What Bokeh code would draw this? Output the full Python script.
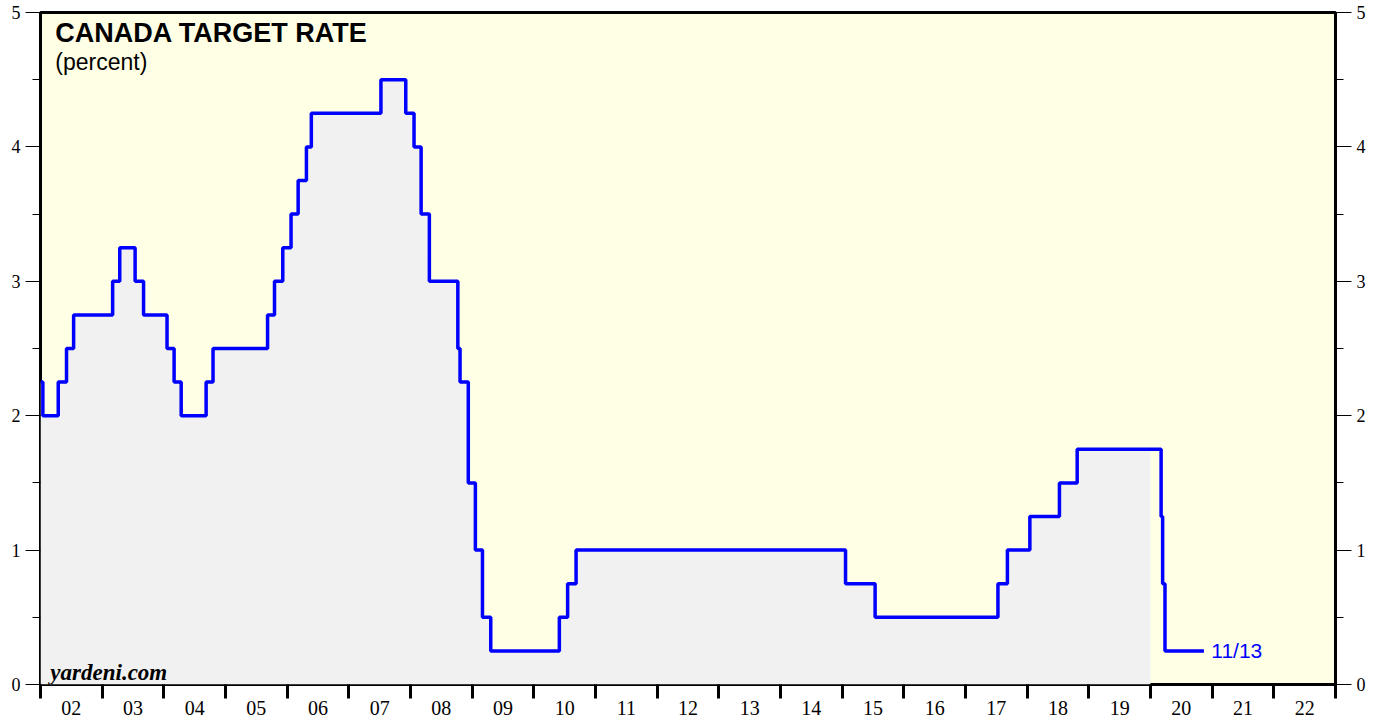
import pandas as pd
from bokeh.plotting import figure
from bokeh.models import Range1d, FixedTicker, LinearAxis, Label, ColumnDataSource
from bokeh.embed import file_html
from bokeh.resources import INLINE

# ---- data: Bank of Canada target rate (change dates and new levels) ----
dates = ["2002-01-01", "2002-01-15", "2002-04-16", "2002-06-04", "2002-07-16",
         "2003-03-04", "2003-04-15", "2003-07-15", "2003-09-03",
         "2004-01-20", "2004-03-02", "2004-04-13", "2004-09-08", "2004-10-19",
         "2005-09-07", "2005-10-18", "2005-12-06",
         "2006-01-24", "2006-03-07", "2006-04-25", "2006-05-24",
         "2007-07-10", "2007-12-04",
         "2008-01-22", "2008-03-04", "2008-04-22", "2008-10-08", "2008-10-21", "2008-12-09",
         "2009-01-20", "2009-03-03", "2009-04-21",
         "2010-06-01", "2010-07-20", "2010-09-08",
         "2015-01-21", "2015-07-15",
         "2017-07-12", "2017-09-06",
         "2018-01-17", "2018-07-11", "2018-10-24",
         "2020-03-04", "2020-03-13", "2020-03-27", "2020-11-13"]
rates = [2.25, 2.00, 2.25, 2.50, 2.75,
         3.00, 3.25, 3.00, 2.75,
         2.50, 2.25, 2.00, 2.25, 2.50,
         2.75, 3.00, 3.25,
         3.50, 3.75, 4.00, 4.25,
         4.50, 4.25,
         4.00, 3.50, 3.00, 2.50, 2.25, 1.50,
         1.00, 0.50, 0.25,
         0.50, 0.75, 1.00,
         0.75, 0.50,
         0.75, 1.00,
         1.25, 1.50, 1.75,
         1.25, 0.75, 0.25, 0.25]
fill_end_date = "2020-01-01"
year_ticks = list(range(2002, 2024))
year_labels = ["02", "03", "04", "05", "06", "07", "08", "09", "10", "11", "12",
               "13", "14", "15", "16", "17", "18", "19", "20", "21", "22"]
y_ticks = [0, 1, 2, 3, 4, 5]
y_minor = [0.5, 1.5, 2.5, 3.5, 4.5]
title_text = "CANADA TARGET RATE"
subtitle_text = "(percent)"
source_text = "yardeni.com"
last_label = "11/13"


def dec_year(s):
    t = pd.Timestamp(s)
    start = pd.Timestamp(year=t.year, month=1, day=1)
    end = pd.Timestamp(year=t.year + 1, month=1, day=1)
    return t.year + (t - start) / (end - start)


xs = [dec_year(d) for d in dates]
fe = dec_year(fill_end_date)
fx = [x for x in xs if x < fe]
fy = [r for x, r in zip(xs, rates) if x < fe]
fx.append(fe)
fy.append(fy[-1])

src = ColumnDataSource(dict(x=xs, y=rates))
fsrc = ColumnDataSource(dict(x=fx, y1=[0] * len(fx), y2=fy))

p = figure(width=1382, height=717,
           x_range=Range1d(year_ticks[0], year_ticks[-1]), y_range=Range1d(0, 5),
           x_axis_location=None, y_axis_location=None,
           output_backend="svg", toolbar_location=None,
           min_border_left=40, min_border_right=47, min_border_top=12, min_border_bottom=31,
           background_fill_color="#FFFFE5", border_fill_color="white",
           outline_line_color="black", outline_line_width=3)
p.xgrid.visible = False
p.ygrid.visible = False

p.varea_step(x="x", y1="y1", y2="y2", step_mode="after", source=fsrc,
             fill_color="#F1F1F1")
p.step(x="x", y="y", mode="after", source=src, line_color="#0000FF", line_width=3.5)

serif = "Liberation Serif"


def yaxis(tick_out):
    ax = LinearAxis(ticker=FixedTicker(ticks=y_ticks, minor_ticks=y_minor),
                    major_tick_out=tick_out, major_tick_in=0,
                    minor_tick_out=8, minor_tick_in=0,
                    major_tick_line_color="black", minor_tick_line_color="black",
                    axis_line_color=None,
                    major_label_text_font=serif, major_label_text_font_size="18px",
                    major_label_text_color="black", major_label_standoff=5)
    return ax


p.add_layout(yaxis(15), "left")
p.add_layout(yaxis(16), "right")

mids = [y + 0.5 for y in year_ticks[:-1]]
xax = LinearAxis(ticker=FixedTicker(ticks=mids, minor_ticks=year_ticks),
                 major_label_overrides={m: lab for m, lab in zip(mids, year_labels)},
                 major_tick_line_color=None, major_tick_out=0, major_tick_in=0,
                 minor_tick_out=14, minor_tick_in=0, minor_tick_line_width=3,
                 minor_tick_line_color="black", axis_line_color=None,
                 major_label_text_font=serif, major_label_text_font_size="20px",
                 major_label_text_color="black", major_label_standoff=2)
p.add_layout(xax, "below")

p.add_layout(Label(x=2002.24, y=4.85, text=title_text, text_font="Liberation Sans",
                   text_font_style="bold", text_font_size="27px", text_color="black",
                   text_baseline="alphabetic"))
p.add_layout(Label(x=2002.24, y=4.63, text=subtitle_text, text_font="Liberation Sans",
                   text_font_size="23px", text_color="black", text_baseline="alphabetic"))
p.add_layout(Label(x=2002.16, y=0.09, text=source_text, text_font=serif,
                   text_font_style="bold italic", text_font_size="23px", text_color="black",
                   text_baseline="alphabetic"))
p.add_layout(Label(x=xs[-1] + 0.12, y=rates[-1], text=last_label, text_font="Liberation Sans",
                   text_font_size="21px", text_color="#0000FF", text_baseline="middle"))

open("out.html", "w").write(file_html(p, INLINE))
